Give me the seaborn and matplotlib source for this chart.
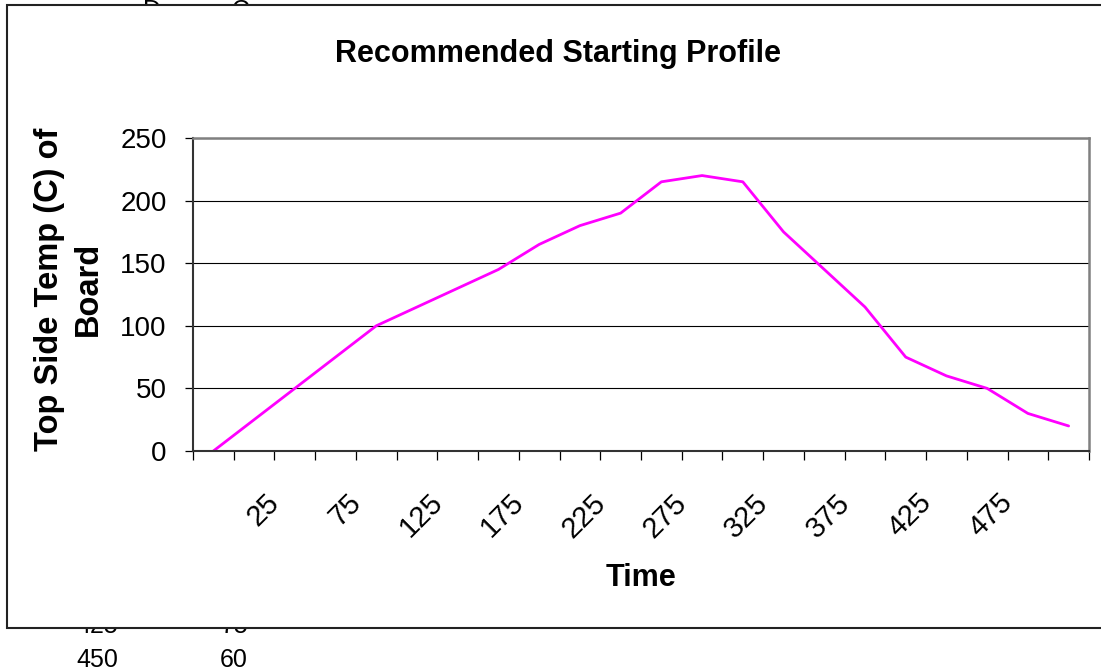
import numpy as np
import pandas as pd
import seaborn as sns
import matplotlib.pyplot as plt
from matplotlib.patches import Rectangle
from matplotlib.transforms import ScaledTranslation

# Reflow profile data (time in s, top side temp in C)
time_s = [0, 25, 50, 75, 100, 125, 150, 175, 200, 225, 250,
          275, 300, 325, 350, 375, 400, 425, 450, 475, 500, 525]
temp_c = [0, 25, 50, 75, 100, 115, 130, 145, 165, 180, 190,
          215, 220, 215, 175, 145, 115, 75, 60, 50, 30, 20]
shown_labels = [25, 75, 125, 175, 225, 275, 325, 375, 425, 475]
y_ticks = [0, 50, 100, 150, 200, 250]
col_header = "Degree C"

df = pd.DataFrame({'Time': time_s, 'Temp': temp_c})
df['pos'] = np.arange(len(df))

sns.set_theme(style='white')
plt.rcParams['font.family'] = ['Liberation Sans', 'DejaVu Sans']
plt.rcParams.update({'text.color': 'black', 'axes.labelcolor': 'black',
                     'xtick.color': 'black', 'ytick.color': 'black'})

W, H = 1101, 670
fig = plt.figure(figsize=(W / 100, H / 100), dpi=100)
ax = fig.add_axes([193 / W, 1 - 451 / H, 896 / W, 313 / H])

# spreadsheet cells behind the chart
fig.text(250 / W, 1 - 18 / H, col_header, ha='right', va='baseline', fontsize=18, zorder=-2)
for row, base in [(17, 633), (18, 667)]:
    fig.text(118 / W, 1 - base / H, str(time_s[row]), ha='right', va='baseline', fontsize=18, zorder=-2)
    fig.text(248 / W, 1 - base / H, str(temp_c[row]), ha='right', va='baseline', fontsize=18, zorder=-2)

# chart area
fig.patches.append(Rectangle((7 / W, 1 - 628 / H), 1.2, 623 / H, transform=fig.transFigure,
                             facecolor='white', edgecolor='#222222', linewidth=1.5, zorder=-1))

sns.lineplot(data=df, x='pos', y='Temp', ax=ax, color='#FF00FF', linewidth=2)

ax.set_xlim(-0.5, len(df) - 0.5)
ax.set_ylim(0, 250)
ax.set_yticks(y_ticks)
ax.yaxis.grid(True, color='black', linewidth=0.8)
ax.set_axisbelow(True)

# category boundaries get the tick marks, labels sit on every other category
ax.set_xticks(np.arange(len(df) + 1) - 0.5, minor=True)
lab_pos = [time_s.index(v) for v in shown_labels]
ax.set_xticks(lab_pos)
ax.set_xticklabels([str(v) for v in shown_labels], rotation=45, ha='right', va='top', fontsize=21)
ax.tick_params(axis='x', which='major', length=0, pad=27)
ax.tick_params(axis='x', which='minor', bottom=True, length=6.5, width=0.9, color='black', direction='out')
ax.tick_params(axis='y', left=True, length=6, width=0.9, color='black', pad=13, labelsize=20)
off = ScaledTranslation(31 / 100, 0, fig.dpi_scale_trans)
for lab in ax.get_xticklabels():
    lab.set_transform(lab.get_transform() + off)

for side in ['top', 'right']:
    ax.spines[side].set_color('#808080')
    ax.spines[side].set_linewidth(1.8)
for side in ['left', 'bottom']:
    ax.spines[side].set_color('#333333')
    ax.spines[side].set_linewidth(1.5)

ax.set_xlabel('Time', fontsize=22, fontweight='bold', va='center')
ax.xaxis.set_label_coords(0.5, (451 - 578) / 313)
ax.set_ylabel('Top Side Temp (C) of\nBoard', fontsize=23.5, fontweight='bold',
              va='center', linespacing=1.3)
ax.yaxis.set_label_coords((69 - 193) / 896, (451 - 289) / 313)
ax.set_title('Recommended Starting Profile', fontsize=22, fontweight='bold',
             x=(558 - 193) / 896, y=(451 - 54) / 313, va='center', pad=0)

fig.savefig('out.png', dpi=100)
